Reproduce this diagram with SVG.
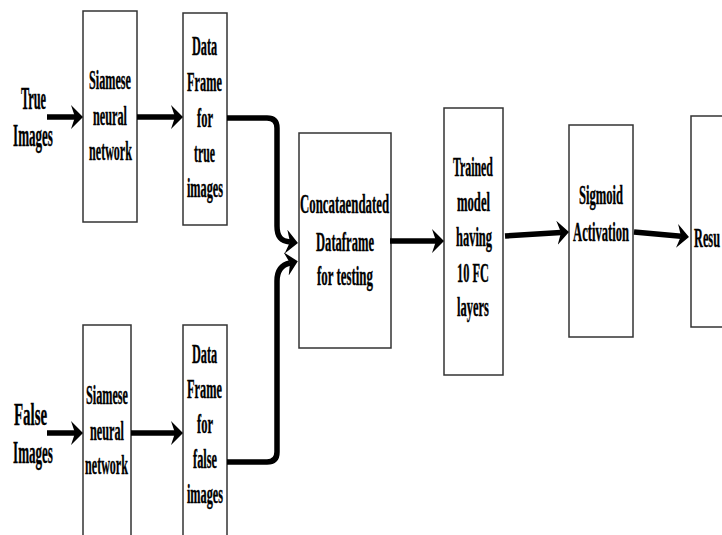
<svg xmlns="http://www.w3.org/2000/svg" width="722" height="535" viewBox="0 0 722 535">
<style>
.box{fill:#fff;stroke:#333;stroke-width:1.5}
.t{font-family:"Liberation Serif","Times New Roman",serif;font-weight:bold;font-size:28px;fill:#000;stroke:#000;stroke-width:0.3;vector-effect:non-scaling-stroke;text-anchor:middle}
.lbl{font-size:31px}
.c{fill:none;stroke:#000;stroke-width:5.5}
</style>
<defs>
<marker id="ah" viewBox="0 0 12 24" refX="4" refY="12" markerWidth="12" markerHeight="24" markerUnits="userSpaceOnUse" orient="auto">
<path d="M0,0 L12,12 L0,24 L4,12 Z" fill="#000"/>
</marker>
</defs>
<rect width="722" height="535" fill="#fff"/>
<g id="label-true">
<text class="t lbl" transform="translate(33.5,109) scale(0.42,1)" textLength="60" lengthAdjust="spacingAndGlyphs">True</text>
<text class="t lbl" transform="translate(33,146) scale(0.42,1)" textLength="95" lengthAdjust="spacingAndGlyphs">Images</text>
</g>
<g id="label-false">
<text class="t lbl" transform="translate(30.5,425) scale(0.42,1)" textLength="79" lengthAdjust="spacingAndGlyphs">False</text>
<text class="t lbl" transform="translate(33,463) scale(0.42,1)" textLength="95" lengthAdjust="spacingAndGlyphs">Images</text>
</g>
<g id="siamese-top">
<rect class="box" x="83" y="11" width="54" height="211"/>
<text class="t" transform="translate(110,89) scale(0.42,1)" textLength="100" lengthAdjust="spacingAndGlyphs">Siamese</text>
<text class="t" transform="translate(110,125) scale(0.42,1)" textLength="81" lengthAdjust="spacingAndGlyphs">neural</text>
<text class="t" transform="translate(110.5,160) scale(0.42,1)" textLength="102" lengthAdjust="spacingAndGlyphs">network</text>
</g>
<g id="df-true">
<rect class="box" x="183" y="13" width="44" height="212"/>
<text class="t" transform="translate(204.5,55) scale(0.42,1)" textLength="60" lengthAdjust="spacingAndGlyphs">Data</text>
<text class="t" transform="translate(204.5,91) scale(0.42,1)" textLength="83" lengthAdjust="spacingAndGlyphs">Frame</text>
<text class="t" transform="translate(205,127) scale(0.42,1)" textLength="38" lengthAdjust="spacingAndGlyphs">for</text>
<text class="t" transform="translate(204.5,162) scale(0.42,1)" textLength="50" lengthAdjust="spacingAndGlyphs">true</text>
<text class="t" transform="translate(205,197) scale(0.42,1)" textLength="86" lengthAdjust="spacingAndGlyphs">images</text>
</g>
<g id="siamese-bottom">
<rect class="box" x="83" y="325" width="48" height="215"/>
<text class="t" transform="translate(107,404) scale(0.42,1)" textLength="100" lengthAdjust="spacingAndGlyphs">Siamese</text>
<text class="t" transform="translate(107,440) scale(0.42,1)" textLength="81" lengthAdjust="spacingAndGlyphs">neural</text>
<text class="t" transform="translate(106.5,474) scale(0.42,1)" textLength="102" lengthAdjust="spacingAndGlyphs">network</text>
</g>
<g id="df-false">
<rect class="box" x="183" y="325" width="44" height="215"/>
<text class="t" transform="translate(204.5,363) scale(0.42,1)" textLength="60" lengthAdjust="spacingAndGlyphs">Data</text>
<text class="t" transform="translate(204.5,398) scale(0.42,1)" textLength="83" lengthAdjust="spacingAndGlyphs">Frame</text>
<text class="t" transform="translate(205,433) scale(0.42,1)" textLength="38" lengthAdjust="spacingAndGlyphs">for</text>
<text class="t" transform="translate(205,468) scale(0.42,1)" textLength="57" lengthAdjust="spacingAndGlyphs">false</text>
<text class="t" transform="translate(205,503) scale(0.42,1)" textLength="86" lengthAdjust="spacingAndGlyphs">images</text>
</g>
<g id="concat">
<rect class="box" x="299" y="133" width="92" height="215"/>
<text class="t" transform="translate(344.5,213) scale(0.42,1)" textLength="212" lengthAdjust="spacingAndGlyphs">Concataendated</text>
<text class="t" transform="translate(345,251) scale(0.42,1)" textLength="138" lengthAdjust="spacingAndGlyphs">Dataframe</text>
<text class="t" transform="translate(345,285) scale(0.42,1)" textLength="133" lengthAdjust="spacingAndGlyphs">for testing</text>
</g>
<g id="trained">
<rect class="box" x="444" y="108" width="59" height="267"/>
<text class="t" transform="translate(473,176) scale(0.42,1)" textLength="95" lengthAdjust="spacingAndGlyphs">Trained</text>
<text class="t" transform="translate(473.5,211) scale(0.42,1)" textLength="79" lengthAdjust="spacingAndGlyphs">model</text>
<text class="t" transform="translate(474,246) scale(0.42,1)" textLength="86" lengthAdjust="spacingAndGlyphs">having</text>
<text class="t" transform="translate(473,282) scale(0.42,1)" textLength="76" lengthAdjust="spacingAndGlyphs">10 FC</text>
<text class="t" transform="translate(473,316) scale(0.42,1)" textLength="76" lengthAdjust="spacingAndGlyphs">layers</text>
</g>
<g id="sigmoid">
<rect class="box" x="569" y="125" width="64" height="212"/>
<text class="t" transform="translate(601,204) scale(0.42,1)" textLength="105" lengthAdjust="spacingAndGlyphs">Sigmoid</text>
<text class="t" transform="translate(601,241) scale(0.42,1)" textLength="133" lengthAdjust="spacingAndGlyphs">Activation</text>
</g>
<g id="result">
<rect class="box" x="691" y="116" width="40" height="211"/>
<text class="t" transform="translate(707,247) scale(0.42,1)" textLength="62" lengthAdjust="spacingAndGlyphs">Resu</text>
</g>
<g id="connectors">
<path class="c" d="M47,117 H75" marker-end="url(#ah)"/>
<path class="c" d="M137,117 H175" marker-end="url(#ah)"/>
<path class="c" d="M47,433 H75" marker-end="url(#ah)"/>
<path class="c" d="M131,433 H175" marker-end="url(#ah)"/>
<path class="c" d="M227,118 H267 Q277,118 277,128 V226 C277,237 281,241 290,242" marker-end="url(#ah)"/>
<path class="c" d="M227,462 H267 Q277,462 277,452 V281 C277,271 281,265 290,263" marker-end="url(#ah)"/>
<path class="c" d="M390,241 H436" marker-end="url(#ah)"/>
<path class="c" d="M505,236 L561,232.5" marker-end="url(#ah)"/>
<path class="c" d="M634,232 L681,236.3" marker-end="url(#ah)"/>
</g>
</svg>
